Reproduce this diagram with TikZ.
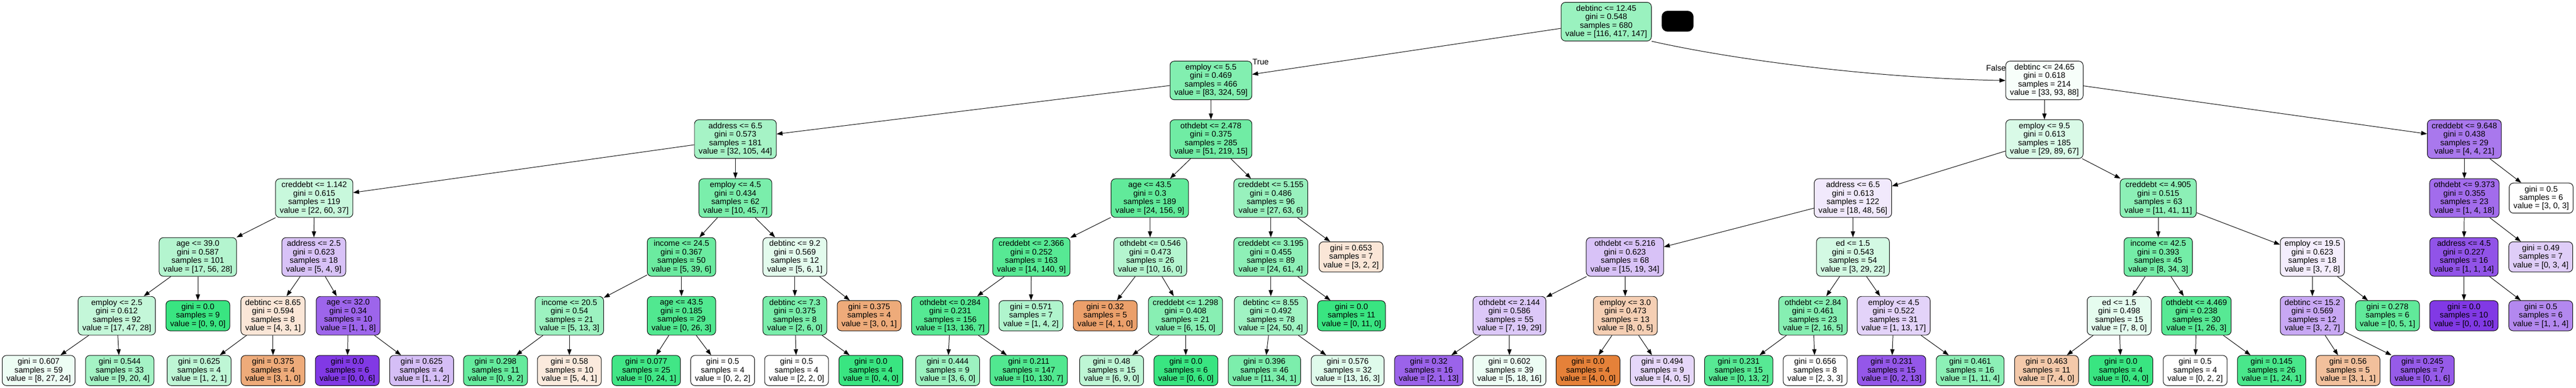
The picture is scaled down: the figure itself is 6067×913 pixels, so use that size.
\documentclass[tikz,border=0pt]{standalone}
\usepackage{fontspec}
\setmainfont{Liberation Sans}
\usepackage{tikz}
\usetikzlibrary{arrows.meta}

\definecolor{ClasseA}{HTML}{E58139}
\definecolor{ClasseB}{HTML}{39E581}
\definecolor{ClasseC}{HTML}{8139E5}

\newcommand{\Noeud}[4]{#1\\gini = #2\\samples = #3\\value = [#4]}
\newcommand{\Feuille}[3]{gini = #1\\samples = #2\\value = [#3]}

\begin{document}
\begin{tikzpicture}[x=1pt,y=-1pt,
    noeud/.style={draw=black, line width=1.2pt, rounded corners=10pt, align=center,
        font=\fontsize{19}{20}\selectfont, inner xsep=10pt, inner ysep=0pt, minimum height=91pt},
    feuille/.style={noeud, minimum height=71pt},
    arete/.style={line width=1.2pt, -{Triangle[length=14pt,width=10pt]}},
    etiquette/.style={font=\fontsize{19}{20}\selectfont, inner sep=0pt}]

\useasboundingbox (0,0) rectangle (6067,913);

% hauteurs des niveaux
\def \yA {51}
\def \yB {189.5}
\def \yC {327.5}
\def \yD {466.5}
\def \yE {605}
\def \yF {743.5}
\def \yG {872.5}

% niveau 0
\node[noeud, fill=ClasseB!51!white] (N0) at (3783,\yA) {\Noeud{debtinc <= 12.45}{0.548}{680}{116, 417, 147}};
\node[fill=black, rounded corners=14pt, minimum width=75pt, minimum height=49pt, inner sep=0pt] (Tache) at (3951,50) {};

% niveau 1
\node[noeud, fill=ClasseB!63!white] (N1) at (2852,\yB) {\Noeud{employ <= 5.5}{0.469}{466}{83, 324, 59}};
\node[noeud, fill=ClasseB!4!white] (N2) at (4815,\yB) {\Noeud{debtinc <= 24.65}{0.618}{214}{33, 93, 88}};
\node[etiquette] (Vrai) at (2969,146) {True};
\node[etiquette] (Faux) at (4701,160) {False};

% niveau 2
\node[noeud, fill=ClasseB!45!white] (N3) at (1732,\yC) {\Noeud{address <= 6.5}{0.573}{181}{32, 105, 44}};
\node[noeud, fill=ClasseB!72!white] (N4) at (2852,\yC) {\Noeud{othdebt <= 2.478}{0.375}{285}{51, 219, 15}};
\node[noeud, fill=ClasseB!19!white] (N5) at (4815,\yC) {\Noeud{employ <= 9.5}{0.613}{185}{29, 89, 67}};
\node[noeud, fill=ClasseC!68!white] (N6) at (5804,\yC) {\Noeud{creddebt <= 9.648}{0.438}{29}{4, 4, 21}};

% niveau 3
\node[noeud, fill=ClasseB!28!white] (N7) at (740,\yD) {\Noeud{creddebt <= 1.142}{0.615}{119}{22, 60, 37}};
\node[noeud, fill=ClasseB!67!white] (N8) at (1732,\yD) {\Noeud{employ <= 4.5}{0.434}{62}{10, 45, 7}};
\node[noeud, fill=ClasseB!80!white] (N9) at (2708,\yD) {\Noeud{age <= 43.5}{0.3}{189}{24, 156, 9}};
\node[noeud, fill=ClasseB!52!white] (N10) at (2993,\yD) {\Noeud{creddebt <= 5.155}{0.486}{96}{27, 63, 6}};
\node[noeud, fill=ClasseC!11!white] (N11) at (4364,\yD) {\Noeud{address <= 6.5}{0.613}{122}{18, 48, 56}};
\node[noeud, fill=ClasseB!58!white] (N12) at (5083,\yD) {\Noeud{creddebt <= 4.905}{0.515}{63}{11, 41, 11}};
\node[noeud, fill=ClasseC!74!white] (N13) at (5804,\yD) {\Noeud{othdebt <= 9.373}{0.355}{23}{1, 4, 18}};
\node[feuille, fill=white] (N14) at (5985,\yD) {\Feuille{0.5}{6}{3, 0, 3}};

% niveau 4
\node[noeud, fill=ClasseB!38!white] (N15) at (466,\yE) {\Noeud{age <= 39.0}{0.587}{101}{17, 56, 28}};
\node[noeud, fill=ClasseC!31!white] (N16) at (739,\yE) {\Noeud{address <= 2.5}{0.623}{18}{5, 4, 9}};
\node[noeud, fill=ClasseB!75!white] (N17) at (1605,\yE) {\Noeud{income <= 24.5}{0.367}{50}{5, 39, 6}};
\node[noeud, fill=ClasseB!14!white] (N18) at (1872,\yE) {\Noeud{debtinc <= 9.2}{0.569}{12}{5, 6, 1}};
\node[noeud, fill=ClasseB!85!white] (N19) at (2429,\yE) {\Noeud{creddebt <= 2.366}{0.252}{163}{14, 140, 9}};
\node[noeud, fill=ClasseB!38!white] (N20) at (2709,\yE) {\Noeud{othdebt <= 0.546}{0.473}{26}{10, 16, 0}};
\node[noeud, fill=ClasseB!57!white] (N21) at (2993,\yE) {\Noeud{creddebt <= 3.195}{0.455}{89}{24, 61, 4}};
\node[feuille, fill=ClasseA!20!white] (N22) at (3182,\yE) {\Feuille{0.653}{7}{3, 2, 2}};
\node[noeud, fill=ClasseC!31!white] (N23) at (3827,\yE) {\Noeud{othdebt <= 5.216}{0.623}{68}{15, 19, 34}};
\node[noeud, fill=ClasseB!22!white] (N24) at (4364,\yE) {\Noeud{ed <= 1.5}{0.543}{54}{3, 29, 22}};
\node[noeud, fill=ClasseB!70!white] (N25) at (5083,\yE) {\Noeud{income <= 42.5}{0.393}{45}{8, 34, 3}};
\node[noeud, fill=ClasseC!9!white] (N26) at (5446,\yE) {\Noeud{employ <= 19.5}{0.623}{18}{3, 7, 8}};
\node[noeud, fill=ClasseC!87!white] (N27) at (5803,\yE) {\Noeud{address <= 4.5}{0.227}{16}{1, 1, 14}};
\node[feuille, fill=ClasseC!25!white] (N28) at (5984,\yE) {\Feuille{0.49}{7}{0, 3, 4}};

% niveau 5
\node[noeud, fill=ClasseB!30!white] (N29) at (275,\yF) {\Noeud{employ <= 2.5}{0.612}{92}{17, 47, 28}};
\node[feuille, fill=ClasseB] (N30) at (466,\yF) {\Feuille{0.0}{9}{0, 9, 0}};
\node[noeud, fill=ClasseA!20!white] (N31) at (643,\yF) {\Noeud{debtinc <= 8.65}{0.594}{8}{4, 3, 1}};
\node[noeud, fill=ClasseC!78!white] (N32) at (820,\yF) {\Noeud{age <= 32.0}{0.34}{10}{1, 1, 8}};
\node[noeud, fill=ClasseB!50!white] (N33) at (1341,\yF) {\Noeud{income <= 20.5}{0.54}{21}{5, 13, 3}};
\node[noeud, fill=ClasseB!88!white] (N34) at (1605,\yF) {\Noeud{age <= 43.5}{0.185}{29}{0, 26, 3}};
\node[noeud, fill=ClasseB!67!white] (N35) at (1872,\yF) {\Noeud{debtinc <= 7.3}{0.375}{8}{2, 6, 0}};
\node[feuille, fill=ClasseA!67!white] (N36) at (2047,\yF) {\Feuille{0.375}{4}{3, 0, 1}};
\node[noeud, fill=ClasseB!86!white] (N37) at (2238,\yF) {\Noeud{othdebt <= 0.284}{0.231}{156}{13, 136, 7}};
\node[feuille, fill=ClasseB!40!white] (N38) at (2428,\yF) {\Feuille{0.571}{7}{1, 4, 2}};
\node[feuille, fill=ClasseA!75!white] (N39) at (2603,\yF) {\Feuille{0.32}{5}{4, 1, 0}};
\node[noeud, fill=ClasseB!60!white] (N40) at (2792,\yF) {\Noeud{creddebt <= 1.298}{0.408}{21}{6, 15, 0}};
\node[noeud, fill=ClasseB!48!white] (N41) at (2993,\yF) {\Noeud{debtinc <= 8.55}{0.492}{78}{24, 50, 4}};
\node[feuille, fill=ClasseB] (N42) at (3183,\yF) {\Feuille{0.0}{11}{0, 11, 0}};
\node[noeud, fill=ClasseC!28!white] (N43) at (3555,\yF) {\Noeud{othdebt <= 2.144}{0.586}{55}{7, 19, 29}};
\node[noeud, fill=ClasseA!38!white] (N44) at (3828,\yF) {\Noeud{employ <= 3.0}{0.473}{13}{8, 0, 5}};
\node[noeud, fill=ClasseB!61!white] (N45) at (4270,\yF) {\Noeud{othdebt <= 2.84}{0.461}{23}{2, 16, 5}};
\node[noeud, fill=ClasseC!22!white] (N46) at (4460,\yF) {\Noeud{employ <= 4.5}{0.522}{31}{1, 13, 17}};
\node[noeud, fill=ClasseB!13!white] (N47) at (4991,\yF) {\Noeud{ed <= 1.5}{0.498}{15}{7, 8, 0}};
\node[noeud, fill=ClasseB!85!white] (N48) at (5173,\yF) {\Noeud{othdebt <= 4.469}{0.238}{30}{1, 26, 3}};
\node[noeud, fill=ClasseC!44!white] (N49) at (5446,\yF) {\Noeud{debtinc <= 15.2}{0.569}{12}{3, 2, 7}};
\node[feuille, fill=ClasseB!80!white] (N50) at (5623,\yF) {\Feuille{0.278}{6}{0, 5, 1}};
\node[feuille, fill=ClasseC] (N51) at (5803,\yF) {\Feuille{0.0}{10}{0, 0, 10}};
\node[feuille, fill=ClasseC!60!white] (N52) at (5984,\yF) {\Feuille{0.5}{6}{1, 1, 4}};

% niveau 6 : feuilles
\foreach \nom/\x/\g/\s/\v/\c in {%
    N53/91/0.607/59/{8, 27, 24}/ClasseB!9!white,
    N54/282/0.544/33/{9, 20, 4}/ClasseB!46!white,
    N55/469/0.625/4/{1, 2, 1}/ClasseB!33!white,
    N56/643/0.375/4/{3, 1, 0}/ClasseA!67!white,
    N57/818/0.0/6/{0, 0, 6}/ClasseC,
    N58/993/0.625/4/{1, 1, 2}/ClasseC!33!white,
    N59/1167/0.298/11/{0, 9, 2}/ClasseB!78!white,
    N60/1341/0.58/10/{5, 4, 1}/ClasseA!17!white,
    N61/1522/0.077/25/{0, 24, 1}/ClasseB!96!white,
    N62/1702/0.5/4/{0, 2, 2}/white,
    N63/1876/0.5/4/{2, 2, 0}/white,
    N64/2051/0.0/4/{0, 4, 0}/ClasseB,
    N65/2232/0.444/9/{3, 6, 0}/ClasseB!50!white,
    N66/2423/0.211/147/{10, 130, 7}/ClasseB!88!white,
    N67/2618/0.48/15/{6, 9, 0}/ClasseB!33!white,
    N68/2793/0.0/6/{0, 6, 0}/ClasseB,
    N69/2978/0.396/46/{11, 34, 1}/ClasseB!66!white,
    N70/3174/0.576/32/{13, 16, 3}/ClasseB!16!white,
    N71/3365/0.32/16/{2, 1, 13}/ClasseC!79!white,
    N72/3555/0.602/39/{5, 18, 16}/ClasseB!9!white,
    N73/3740/0.0/4/{4, 0, 0}/ClasseA,
    N74/3915/0.494/9/{4, 0, 5}/ClasseC!20!white,
    N75/4095/0.231/15/{0, 13, 2}/ClasseB!85!white,
    N76/4275/0.656/8/{2, 3, 3}/white,
    N77/4455/0.231/15/{0, 2, 13}/ClasseC!85!white,
    N78/4640/0.461/16/{1, 11, 4}/ClasseB!58!white,
    N79/4820/0.463/11/{7, 4, 0}/ClasseA!43!white,
    N80/4995/0.0/4/{0, 4, 0}/ClasseB,
    N81/5170/0.5/4/{0, 2, 2}/white,
    N82/5350/0.145/26/{1, 24, 1}/ClasseB!92!white,
    N83/5530/0.56/5/{3, 1, 1}/ClasseA!50!white,
    N84/5705/0.245/7/{0, 1, 6}/ClasseC!83!white%
}{
    \node[feuille, fill=\c] (\nom) at (\x,\yG) {\Feuille{\g}{\s}{\v}};
}

% aretes
\draw[arete] (N0.south east) .. controls +(200,45) and +(-300,-5) .. (N2.west);
\foreach \p/\e in {N0/N1, N1/N3, N1/N4, N2/N5, N2/N6,
    N3/N7, N3/N8, N4/N9, N4/N10, N5/N11, N5/N12, N6/N13, N6/N14,
    N7/N15, N7/N16, N8/N17, N8/N18, N9/N19, N9/N20, N10/N21, N10/N22,
    N11/N23, N11/N24, N12/N25, N12/N26, N13/N27, N13/N28,
    N15/N29, N15/N30, N16/N31, N16/N32, N17/N33, N17/N34, N18/N35, N18/N36,
    N19/N37, N19/N38, N20/N39, N20/N40, N21/N41, N21/N42,
    N23/N43, N23/N44, N24/N45, N24/N46, N25/N47, N25/N48,
    N26/N49, N26/N50, N27/N51, N27/N52,
    N29/N53, N29/N54, N31/N55, N31/N56, N32/N57, N32/N58,
    N33/N59, N33/N60, N34/N61, N34/N62, N35/N63, N35/N64,
    N37/N65, N37/N66, N40/N67, N40/N68, N41/N69, N41/N70,
    N43/N71, N43/N72, N44/N73, N44/N74, N45/N75, N45/N76,
    N46/N77, N46/N78, N47/N79, N47/N80, N48/N81, N48/N82,
    N49/N83, N49/N84}
    \draw[arete] (\p) -- (\e);

\end{tikzpicture}
\end{document}
